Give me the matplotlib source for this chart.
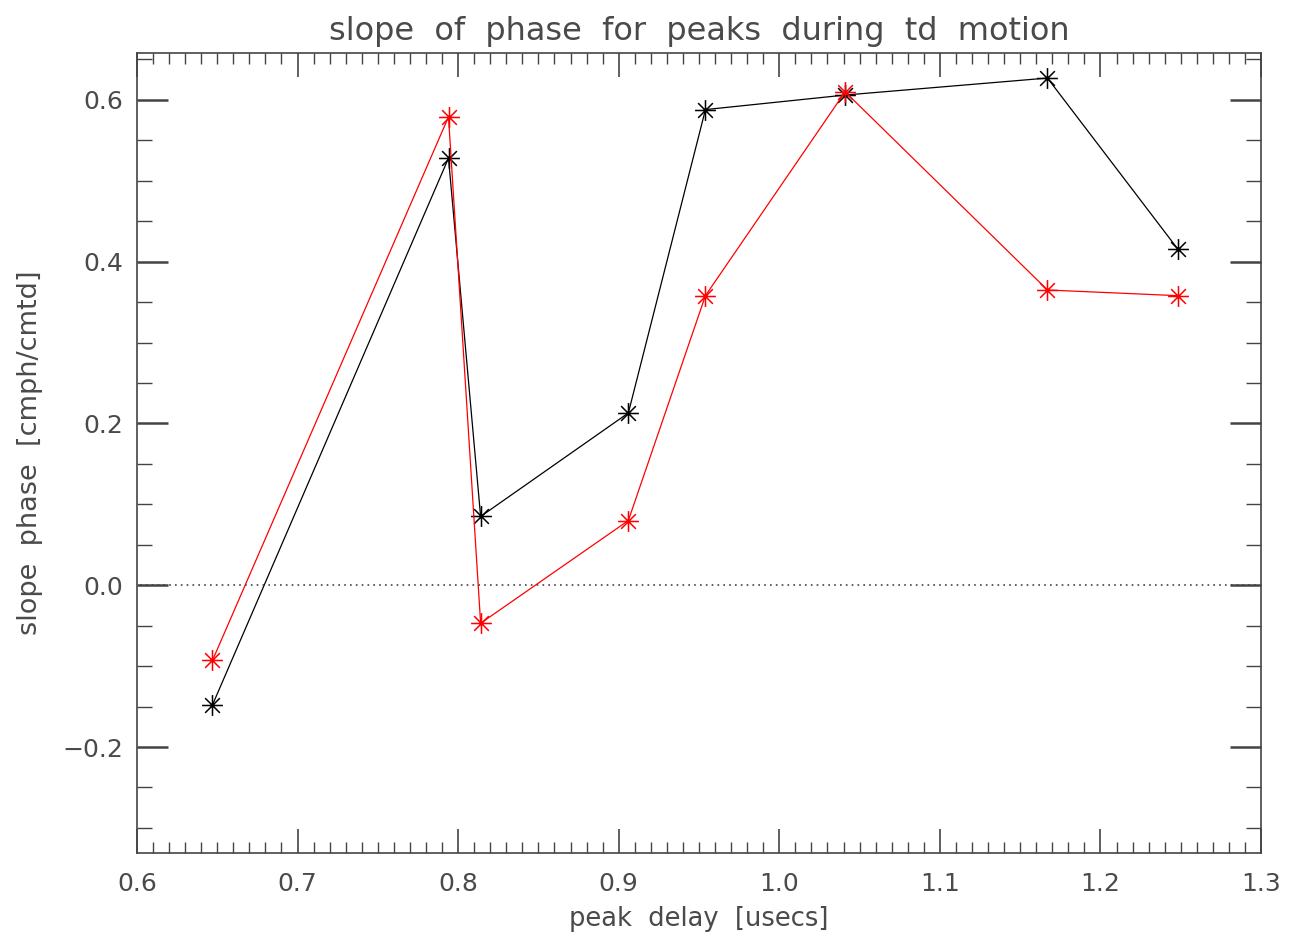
import matplotlib
matplotlib.use('Agg')
import matplotlib.pyplot as plt
from matplotlib.path import Path
from matplotlib.ticker import MultipleLocator

# peak delay (usecs) and slope of phase for the two runs
delay = [0.647, 0.794, 0.814, 0.906, 0.954, 1.041, 1.167, 1.248]
slope_black = [-0.148, 0.528, 0.085, 0.213, 0.588, 0.606, 0.627, 0.416]
slope_red = [-0.093, 0.579, -0.047, 0.080, 0.358, 0.610, 0.365, 0.358]

# IDL style asterisk: vertical, horizontal and two diagonals
d = 0.7071
verts = [(0, -1), (0, 1), (-1, 0), (1, 0), (-d, -d), (d, d), (-d, d), (d, -d)]
codes = [Path.MOVETO, Path.LINETO] * 4
asterisk = Path(verts, codes)

plt.rcParams['font.family'] = ['DejaVu Sans']
txt = '#4a4a4a'

fig = plt.figure(figsize=(12.91, 9.41), dpi=100)
ax = fig.add_axes([0.1061, 0.0935, 0.8707, 0.8502])

# dotted zero line
ax.axhline(0, xmin=0.003, xmax=0.997, color='#444444', lw=1.2,
           ls=(0, (1, 2.5)), zorder=3)
ax.plot(delay, slope_black, color='black', lw=0.9, marker=asterisk,
        markersize=15, markeredgewidth=1.1, markerfacecolor='none')
ax.plot(delay, slope_red, color='red', lw=0.9, marker=asterisk,
        markersize=15, markeredgewidth=1.1, markerfacecolor='none')

ax.set_xlim(0.6, 1.3)
ax.set_ylim(-0.331, 0.658)
ax.xaxis.set_major_locator(MultipleLocator(0.1))
ax.xaxis.set_minor_locator(MultipleLocator(0.01))
ax.yaxis.set_major_locator(MultipleLocator(0.2))
ax.yaxis.set_minor_locator(MultipleLocator(0.05))
ax.xaxis.set_major_formatter(plt.FuncFormatter(lambda v, p: f'{v:.1f}'))
ax.yaxis.set_major_formatter(plt.FuncFormatter(lambda v, p: f'{v:.1f}'.replace('-', '\u2212')))

ax.tick_params(axis='both', which='both', direction='in', top=True, right=True,
               colors='#444444', labelcolor=txt, labelsize=18)
ax.tick_params(axis='x', which='major', length=17, width=1.2, pad=14)
ax.tick_params(axis='x', which='minor', length=8, width=1.0)
ax.tick_params(axis='y', which='major', length=22, width=1.8, pad=10)
ax.tick_params(axis='y', which='minor', length=11, width=1.0)
for s in ax.spines.values():
    s.set_color('#444444')
    s.set_linewidth(1.2)

ax.set_title('slope  of  phase  for  peaks  during  td  motion', fontsize=23,
             color=txt, pad=9)
ax.set_xlabel('peak  delay  [usecs]', fontsize=18.5, color=txt, labelpad=7)
ax.set_ylabel('slope  phase  [cmph/cmtd]', fontsize=19.5, color=txt, labelpad=14)

fig.savefig('out.png', dpi=100)
